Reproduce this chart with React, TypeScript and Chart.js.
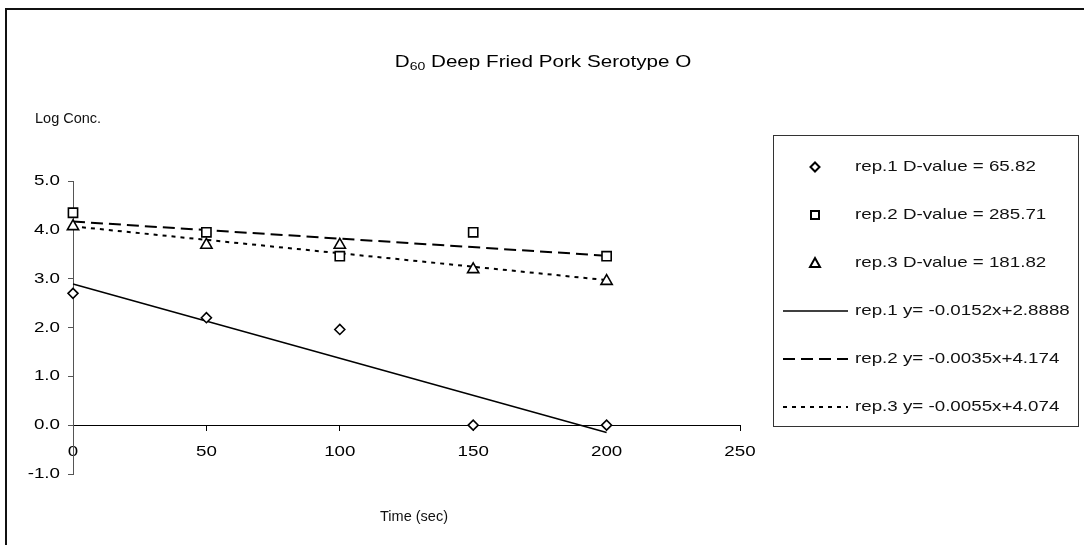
import React, { useEffect, useRef } from 'react';
import { Chart, registerables } from 'chart.js';

Chart.register(...registerables);

// ---- data ----
const timeSec = [0, 50, 100, 150, 200];
const rep1Values = [2.7, 2.2, 1.96, 0, 0];
const rep2Values = [4.35, 3.95, 3.46, 3.95, 3.46];
const rep3Values = [4.07, 3.69, 3.69, 3.19, 2.95];
const fitTimes = [0, 200];
const fit1Values = [2.89, -0.15];
const fit2Values = [4.17, 3.47];
const fit3Values = [4.07, 2.97];
const xTickStep = 50;
const yTickStep = 1;
const seriesLabels = [
  'rep.1 D-value = 65.82',
  'rep.2 D-value = 285.71',
  'rep.3 D-value = 181.82',
  'rep.1 y= -0.0152x+2.8888',
  'rep.2 y= -0.0035x+4.174',
  'rep.3 y= -0.0055x+4.074',
];
const titleMain = 'D';
const titleSub = '60';
const titleRest = ' Deep Fried Pork Serotype O';
const yAxisTitle = 'Log Conc.';
const xAxisTitle = 'Time (sec)';

const FONT = "'Liberation Sans', Arial, sans-serif";
const STRETCH = 1.25;
let stretch = STRETCH;

function patchCtx(ctx: any) {
  if (ctx.__stretched) return;
  const orig = ctx.fillText;
  ctx.fillText = function (text: string, x: number, y: number, maxWidth?: number) {
    if (stretch === 1) {
      if (maxWidth === undefined) return orig.call(this, text, x, y);
      return orig.call(this, text, x, y, maxWidth);
    }
    this.save();
    this.translate(x, y);
    this.scale(stretch, 1);
    orig.call(this, text, 0, 0);
    this.restore();
  };
  ctx.__stretched = true;
}

function toXY(xs: number[], ys: number[]) {
  return xs.map((x, i) => ({ x, y: ys[i] }));
}

function drawMarker(ctx: CanvasRenderingContext2D, kind: string, x: number, y: number, r: number) {
  ctx.beginPath();
  if (kind === 'rectRot') {
    ctx.moveTo(x - r, y);
    ctx.lineTo(x, y - r);
    ctx.lineTo(x + r, y);
    ctx.lineTo(x, y + r);
    ctx.closePath();
  } else if (kind === 'rect') {
    ctx.rect(x - r, y - r, 2 * r, 2 * r);
  } else {
    ctx.moveTo(x, y - r);
    ctx.lineTo(x + r, y + r * 0.8);
    ctx.lineTo(x - r, y + r * 0.8);
    ctx.closePath();
  }
  ctx.fillStyle = '#fff';
  ctx.fill();
  ctx.lineWidth = 2;
  ctx.strokeStyle = '#000';
  ctx.stroke();
}

const framePlugin = {
  id: 'frame',
  beforeDraw(chart: any) {
    const ctx = chart.ctx;
    ctx.save();
    ctx.fillStyle = '#fff';
    ctx.fillRect(0, 0, chart.width, chart.height);
    ctx.restore();
    stretch = STRETCH;
  },
  afterDraw(chart: any) {
    const ctx: CanvasRenderingContext2D = chart.ctx;
    ctx.save();
    // outer border
    ctx.strokeStyle = '#111';
    ctx.lineWidth = 2;
    ctx.strokeRect(6, 9, 1200, 700);

    // title
    stretch = STRETCH;
    ctx.fillStyle = '#000';
    ctx.textBaseline = 'middle';
    ctx.textAlign = 'left';
    const tSize = 16.5;
    ctx.font = `${tSize}px ${FONT}`;
    const w1 = ctx.measureText(titleMain).width * STRETCH;
    const w3 = ctx.measureText(titleRest).width * STRETCH;
    ctx.font = `${tSize * 0.68}px ${FONT}`;
    const w2 = ctx.measureText(titleSub).width * STRETCH;
    const total = w1 + w2 + w3;
    let tx = 543 - total / 2;
    const ty = 62;
    ctx.font = `${tSize}px ${FONT}`;
    ctx.fillText(titleMain, tx, ty);
    tx += w1;
    ctx.font = `${tSize * 0.68}px ${FONT}`;
    ctx.fillText(titleSub, tx, ty + 5);
    tx += w2;
    ctx.font = `${tSize}px ${FONT}`;
    ctx.fillText(titleRest, tx, ty);

    // legend
    const lx = 773.5, ly = 135.5, lw = 305, lh = 291;
    ctx.lineWidth = 1;
    ctx.strokeStyle = '#333';
    ctx.strokeRect(lx, ly, lw, lh);
    const datasets = chart.data.datasets;
    ctx.font = `15px ${FONT}`;
    datasets.forEach((ds: any, i: number) => {
      const ry = 167 + i * 48;
      if (ds.showLine) {
        ctx.save();
        ctx.beginPath();
        ctx.strokeStyle = ds.borderColor;
        ctx.lineWidth = ds.borderWidth;
        ctx.setLineDash(ds.borderDash || []);
        ctx.moveTo(783, ry);
        ctx.lineTo(848, ry);
        ctx.stroke();
        ctx.restore();
      } else {
        const r = ds.pointStyle === 'rect' ? 4 : ds.pointStyle === 'rectRot' ? 4.5 : 5;
        drawMarker(ctx, ds.pointStyle, 815, ry, r);
      }
      ctx.fillStyle = '#111';
      ctx.textAlign = 'left';
      ctx.textBaseline = 'middle';
      ctx.fillText(ds.label, 855, ry);
    });

    // axis titles (not stretched)
    stretch = 1;
    ctx.font = `14.5px ${FONT}`;
    ctx.fillStyle = '#111';
    ctx.textAlign = 'left';
    ctx.fillText(yAxisTitle, 35, 119);
    ctx.textAlign = 'center';
    ctx.fillText(xAxisTitle, 414, 517);
    stretch = STRETCH;
    ctx.restore();
  },
};

export default function App() {
  const ref = useRef<HTMLCanvasElement | null>(null);
  useEffect(() => {
    const canvas = ref.current;
    if (!canvas) return;
    const ctx = canvas.getContext('2d');
    patchCtx(ctx);
    const pointDs = (label: string, ys: number[], style: string, r: number) => ({
      label,
      data: toXY(timeSec, ys),
      showLine: false,
      clip: false,
      pointStyle: style,
      pointRadius: r,
      pointBackgroundColor: '#fff',
      pointBorderColor: '#000',
      pointBorderWidth: 1.6,
      borderColor: '#000',
      order: 0,
    });
    const lineDs = (label: string, ys: number[], width: number, dash: number[]) => ({
      label,
      data: toXY(fitTimes, ys),
      showLine: true,
      clip: false,
      pointRadius: 0,
      borderColor: '#000',
      borderWidth: width,
      borderDash: dash,
      fill: false,
      order: 1,
    });
    const chart = new Chart(canvas, {
      type: 'scatter',
      data: {
        datasets: [
          pointDs(seriesLabels[0], rep1Values, 'rectRot', 5),
          pointDs(seriesLabels[1], rep2Values, 'rect', 6.5),
          pointDs(seriesLabels[2], rep3Values, 'triangle', 6.5),
          lineDs(seriesLabels[3], fit1Values, 1.5, []),
          lineDs(seriesLabels[4], fit2Values, 2, [12, 6]),
          lineDs(seriesLabels[5], fit3Values, 2, [4, 5]),
        ] as any,
      },
      options: {
        responsive: false,
        animation: false,
        devicePixelRatio: 1,
        layout: { padding: { left: 0, top: 181, right: 344, bottom: 71 } },
        plugins: {
          legend: { display: false },
          tooltip: { enabled: false },
          title: { display: false },
        },
        scales: {
          x: {
            type: 'linear',
            min: 0,
            max: 250,
            position: { y: 0 } as any,
            ticks: {
              stepSize: xTickStep,
              font: { family: FONT, size: 15 },
              color: '#000',
              padding: 13,
              maxRotation: 0,
              autoSkip: false,
            },
            grid: { display: true, drawOnChartArea: false, drawTicks: true, tickLength: 5, color: '#000' },
            border: { display: true, color: '#000', width: 1 },
            afterFit: (s: any) => {
              s.height = 0;
            },
          },
          y: {
            type: 'linear',
            min: -1,
            max: 5,
            position: 'left',
            ticks: {
              stepSize: yTickStep,
              font: { family: FONT, size: 15 },
              color: '#000',
              padding: 8,
              callback: (v: any) => Number(v).toFixed(1),
            },
            grid: { display: true, drawOnChartArea: false, drawTicks: true, tickLength: 5, color: '#555' },
            border: { display: true, color: '#555', width: 1 },
            afterFit: (s: any) => {
              s.width = 73;
            },
          },
        },
      } as any,
      plugins: [framePlugin],
    });
    return () => chart.destroy();
  }, []);
  return (
    <div style={{ position: 'fixed', left: 0, top: 0, width: 1084, height: 545 }}>
      <canvas ref={ref} width={1084} height={545} style={{ display: 'block', width: 1084, height: 545 }} />
    </div>
  );
}
